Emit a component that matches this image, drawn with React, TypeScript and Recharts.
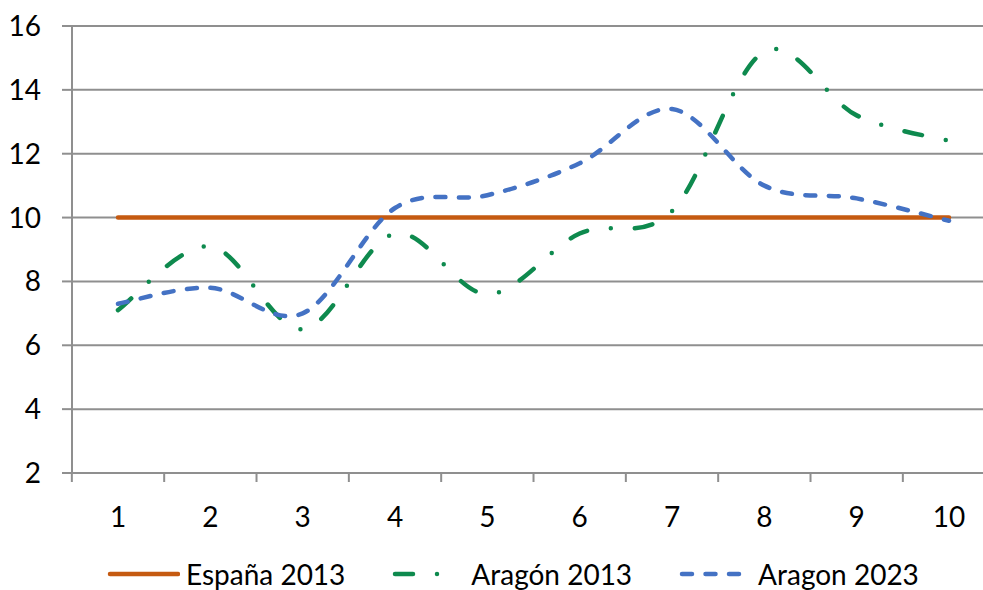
import React from "react";
import { LineChart, Line, XAxis, YAxis, CartesianGrid } from "recharts";

const categories = ["1", "2", "3", "4", "5", "6", "7", "8", "9", "10"];
const espana2013 = [10, 10, 10, 10, 10, 10, 10, 10, 10, 10];
const aragon2013 = [7.1, 9.1, 6.5, 9.5, 7.6, 9.5, 10.2, 15.2, 13.2, 12.4];
const aragon2023 = [7.3, 7.8, 7.0, 10.3, 10.7, 11.7, 13.4, 11.0, 10.6, 9.9];
const yTicks = [2, 4, 6, 8, 10, 12, 14, 16];

const series = [
  { key: "espana", name: "España 2013", color: "#C55A11", dash: undefined, sample: 68 },
  { key: "aragon13", name: "Aragón 2013", color: "#0E8A4E", dash: "18 24 0 24", sample: 50 },
  { key: "aragon23", name: "Aragon 2023", color: "#4472C4", dash: "10 13.5", sample: 64 },
];

const data = categories.map((cat, i) => ({
  cat,
  espana: espana2013[i],
  aragon13: aragon2013[i],
  aragon23: aragon2023[i],
}));

// excel-style smoothed line (catmull-rom through every point)
function excelSmooth(context: any) {
  let pts: number[][] = [];
  return {
    areaStart() {},
    areaEnd() {},
    lineStart() {
      pts = [];
    },
    point(x: number, y: number) {
      pts.push([+x, +y]);
    },
    lineEnd() {
      if (!pts.length) return;
      context.moveTo(pts[0][0], pts[0][1]);
      for (let i = 0; i < pts.length - 1; i++) {
        const p0 = pts[i - 1] || pts[i];
        const p1 = pts[i];
        const p2 = pts[i + 1];
        const p3 = pts[i + 2] || pts[i + 1];
        context.bezierCurveTo(
          p1[0] + (p2[0] - p0[0]) / 6,
          p1[1] + (p2[1] - p0[1]) / 6,
          p2[0] - (p3[0] - p1[0]) / 6,
          p2[1] - (p3[1] - p1[1]) / 6,
          p2[0],
          p2[1]
        );
      }
    },
  };
}

const FONT = "Lato, 'Noto Sans', sans-serif";
const GRID = "#8f8f8f";
const HALF_STEP = 46.15;

const CatTick = (props: any) => {
  const { x, y, payload } = props;
  return (
    <g>
      <line x1={x - HALF_STEP} x2={x - HALF_STEP} y1={y} y2={y + 9} stroke={GRID} strokeWidth={2} />
      <text x={x} y={y + 43} textAnchor="middle" dominantBaseline="central" fontSize={28} fontFamily={FONT} fill="#000">
        {payload.value}
      </text>
    </g>
  );
};

const LegendRow = () => (
  <div
    style={{
      position: "absolute",
      left: 106,
      top: 560,
      height: 28,
      display: "flex",
      alignItems: "center",
      fontFamily: FONT,
      fontSize: 28,
      lineHeight: "26px",
      color: "#000",
      whiteSpace: "nowrap",
    }}
  >
    {series.map((s) => (
      <div key={s.key} style={{ display: "flex", alignItems: "center", marginRight: 46 }}>
        <svg width={74} height={12}>
          <line
            x1={4}
            x2={4 + s.sample}
            y1={6}
            y2={6}
            stroke={s.color}
            strokeWidth={4.5}
            strokeLinecap="round"
            strokeDasharray={s.dash}
          />
        </svg>
        <span style={{ marginLeft: 6, lineHeight: "26px" }}>{s.name}</span>
      </div>
    ))}
  </div>
);

export default function App() {
  return (
    <div style={{ position: "absolute", left: 0, top: 0, width: 983, height: 590, overflow: "hidden", background: "#fff" }}>
      <LineChart width={1000} height={590} data={data} margin={{ top: 26, right: 5, bottom: 77, left: 0 }}>
        <CartesianGrid vertical={false} stroke={GRID} strokeWidth={2} />
        <XAxis
          dataKey="cat"
          padding={{ left: 46, right: 46 }}
          height={40}
          axisLine={{ stroke: GRID, strokeWidth: 2 }}
          tickLine={false}
          tickSize={0}
          tickMargin={0}
          tick={(p: any) => <CatTick {...p} />}
          interval={0}
        />
        <YAxis
          domain={[2, 16]}
          ticks={yTicks}
          width={72}
          axisLine={{ stroke: GRID, strokeWidth: 2 }}
          tickLine={{ stroke: GRID, strokeWidth: 2 }}
          tickSize={10}
          tickMargin={21}
          tick={{ fontSize: 28, fontFamily: FONT, fill: "#000" }}
          interval={0}
        />
        {series.map((s) => (
          <Line
            key={s.key}
            dataKey={s.key}
            name={s.name}
            type={excelSmooth as any}
            stroke={s.color}
            strokeWidth={4.5}
            strokeLinecap="round"
            strokeDasharray={s.dash}
            dot={false}
            activeDot={false}
            isAnimationActive={false}
          />
        ))}
      </LineChart>
      <LegendRow />
    </div>
  );
}
